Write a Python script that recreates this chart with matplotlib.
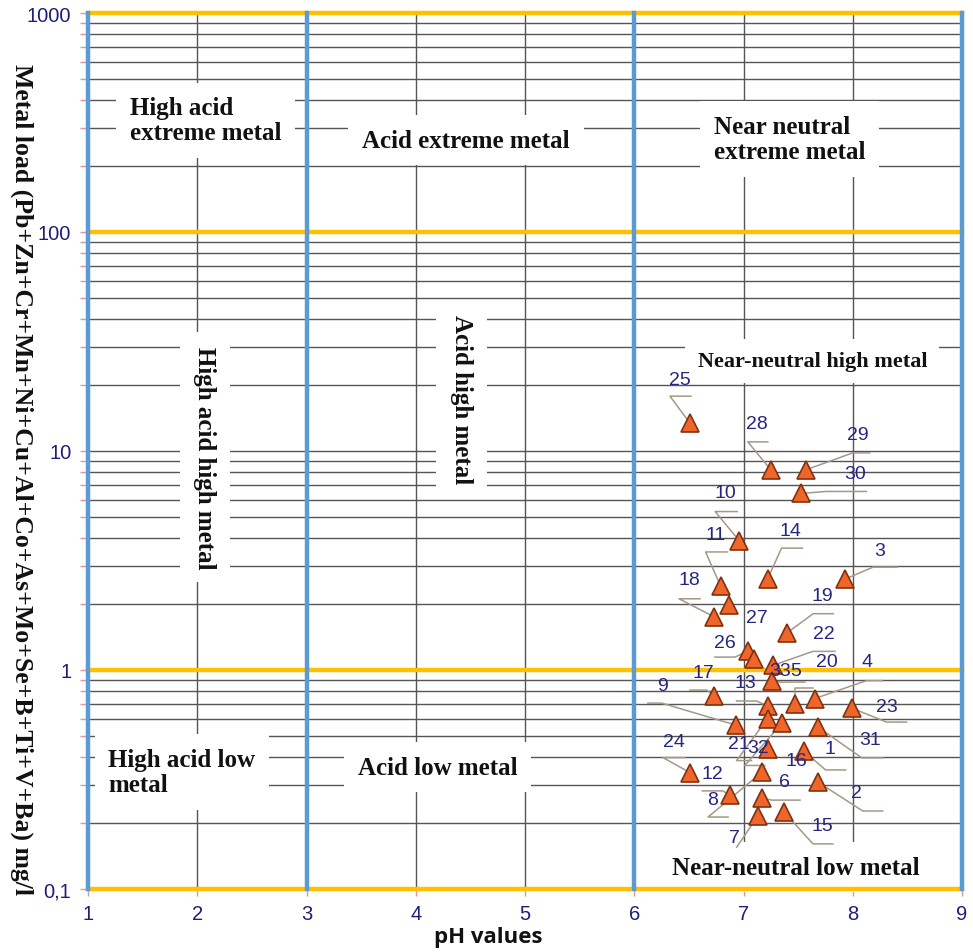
import matplotlib.pyplot as plt
import matplotlib.transforms as mtransforms
from matplotlib.ticker import FixedLocator, LogLocator, NullFormatter

# Amostras (rótulo, pH, carga metálica mg/l)
amostras = ["25", "28", "29", "30", "10", "11", "14", "3", "27", "18", "19",
            "26", "33", "22", "5", "17", "13", "20", "4", "23", "9", "21",
            "32", "31", "16", "1", "24", "8", "2", "12", "6", "15", "7"]
ph = [6.51, 7.25, 7.57, 7.53, 6.96, 6.79, 7.22, 7.93, 6.87, 6.73, 7.40,
      7.04, 7.10, 7.27, 7.26, 6.73, 7.22, 7.47, 7.65, 7.99, 6.93, 7.22,
      7.35, 7.68, 7.22, 7.55, 6.51, 7.17, 7.68, 6.88, 7.17, 7.37, 7.13]
carga = [13.4, 8.2, 8.2, 6.4, 3.9, 2.42, 2.6, 2.6, 1.98, 1.75, 1.48,
         1.22, 1.12, 1.05, 0.89, 0.76, 0.685, 0.70, 0.74, 0.67, 0.56, 0.60,
         0.57, 0.55, 0.436, 0.427, 0.34, 0.342, 0.308, 0.269, 0.26, 0.225, 0.215]

# Posição dos rótulos e das linhas guia (em pixels, relativos ao ponto)
pos_rotulo = [(-10, -44), (-14, -46), (52, -35), (54, -20), (-14, -48), (-5, -51),
              (23, -49), (35, -29), (28, 12), (-25, -37), (35, -37), (-23, -9),
              (26, 11), (51, -32), (24, -11), (-11, -24), (-22, -23), (32, -42),
              (52, -37), (35, -2), (-73, -40), (-29, 25), (-24, 24), (52, 13),
              (29, 12), (26, -2), (-16, -31), (-50, 27), (39, 10), (-18, -21),
              (22, -17), (38, 14), (-23, 21)]
guias = [((-20, -27), 1), ((-23, -28), -3), ((47, -17), 64), ((25, -2), 65),
         ((-24, -29), -2), ((-15, -34), 7), ((14, -31), 35), ((28, -12), 52),
         None, ((-35, -18), -14), ((26, -19), 46), ((-13, 6), -33),
         None, ((40, -14), 62), ((8, 1), 33), ((-7, -6), -24),
         ((-11, -5), -31), ((0, -16), 18), ((52, -18), 68), ((35, 14), 55),
         ((-74, -22), -88), ((-31, 42), -16), ((-37, 42), -17), ((44, 31), 65),
         None, ((22, 19), 42), ((-27, -15), -5), ((-54, 45), -34),
         ((45, 29), 65), ((-8, -4), -28), ((10, 2), 38), ((29, 32), 49),
         ((-21, 31), -21)]

# Regiões do diagrama
regioes = ["High acid\nextreme metal", "Acid extreme metal", "Near neutral\nextreme metal",
           "High acid high metal", "Acid high metal", "Near-neutral high metal",
           "High acid low\nmetal", "Acid low metal", "Near-neutral low metal"]
regioes_ph = [2.08, 4.46, 7.42, 2.07, 4.42, 7.63, 1.86, 4.2, 7.48]
regioes_carga = [324, 263, 266, 9.4, 17.3, 25.8, 0.342, 0.36, 0.126]
regioes_rot = [0, 0, 0, 270, 270, 0, 0, 0, 0]
regioes_tam = [18, 18, 18, 18, 18, 16, 18, 18, 18]

limites_ph = [1, 3, 6, 9]
limites_carga = [0.1, 1, 100, 1000]

fig = plt.figure(figsize=(9.73, 9.53), dpi=100)
ax = fig.add_axes([88 / 973, 1 - 890 / 953, 874 / 973, 876 / 953])

ax.set_yscale("log")
ax.set_xlim(1, 9)
ax.set_ylim(0.1, 1000)

# grade
ax.set_xticks(range(1, 10))
ax.yaxis.set_major_locator(FixedLocator([0.1, 1, 10, 100, 1000]))
ax.set_yticklabels(["0,1", "1", "10", "100", "1000"])
ax.yaxis.set_minor_locator(LogLocator(base=10, subs=range(2, 10)))
ax.yaxis.set_minor_formatter(NullFormatter())
ax.grid(True, which="both", axis="y", color="#555555", lw=1.0, zorder=0.5)
ax.grid(True, which="major", axis="x", color="#555555", lw=1.0, zorder=0.5)
ax.set_axisbelow(True)
for s in ax.spines.values():
    s.set_visible(False)

ax.tick_params(axis="both", which="both", direction="out", color="#E49595",
               width=1.0, labelcolor="#1E1E78", labelsize=14.5)
ax.tick_params(axis="y", which="both", length=6, pad=6)
ax.tick_params(axis="x", length=5, pad=6)
for t in ax.get_xticklabels() + ax.get_yticklabels():
    t.set_family("Liberation Sans")

# limites das classes
for v in limites_carga:
    ax.axhline(v, color="#FFC000", lw=3.2, zorder=3, clip_on=False)
for v in limites_ph:
    ax.axvline(v, color="#5B9BD5", lw=3.2, zorder=4, clip_on=False)

# nomes das regiões
for txt, x, y, r, tam in zip(regioes, regioes_ph, regioes_carga, regioes_rot, regioes_tam):
    ax.text(x, y, txt, rotation=r, ha="center", va="center", ma="left",
            family="Liberation Serif", fontweight="bold", fontsize=tam,
            color="#111111", zorder=2.5, linespacing=1.1,
            bbox=dict(boxstyle="square,pad=0.55", fc="white", ec="none"))

# pontos
ax.plot(ph, carga, linestyle="none", marker="^", ms=12.5, mfc="#F0652A",
        mec="#7F3210", mew=1.2, zorder=6)

for i, lbl in enumerate(amostras):
    tr = mtransforms.Affine2D().scale(1, -1) + \
        mtransforms.ScaledTranslation(ph[i], carga[i], ax.transData)
    if guias[i] is not None:
        (ex, ey), hx = guias[i]
        ax.plot([0, ex, hx], [0, ey, ey], color="#A59886", lw=1.1,
                transform=tr, zorder=5, clip_on=False)
    dx, dy = pos_rotulo[i]
    ax.text(dx, dy, lbl, transform=tr, ha="center", va="center",
            family="Liberation Sans", fontsize=14, color="#262680", zorder=7)

fig.text(22 / 973, 1 - 480 / 953,
         "Metal load (Pb+Zn+Cr+Mn+Ni+Cu+Al+Co+As+Mo+Se+B+Ti+V+Ba) mg/l",
         rotation=270, ha="center", va="center", family="Liberation Serif",
         fontweight="bold", fontsize=18.5, color="#111111")
fig.text(488 / 973, 1 - 938 / 953, "pH values", ha="center", va="center",
         family="Open Sans", fontweight="bold", fontsize=16, color="#111111")

fig.savefig("out.png", dpi=100)
